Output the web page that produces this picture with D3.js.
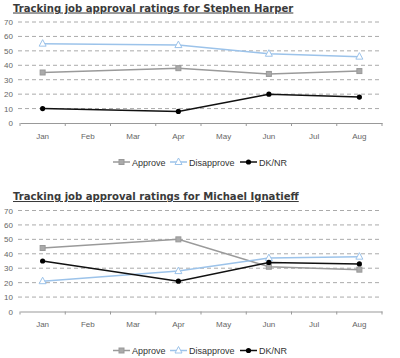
<!DOCTYPE html>
<html><head><meta charset="utf-8">
<script src="https://cdn.jsdelivr.net/npm/d3@7"></script>
<style>body{margin:0;background:#fff}svg{display:block}</style>
</head><body>
<svg id="c" width="400" height="358"></svg>
<script>
const months = ["Jan","Feb","Mar","Apr","May","Jun","Jul","Aug"];
const yTicks = [0,10,20,30,40,50,60,70];
const seriesNames = ["Approve","Disapprove","DK/NR"];
const harperMonths = ["Jan","Apr","Jun","Aug"];
const harperApprove = [35,38,34,36];
const harperDisapprove = [55,54,48,46];
const harperDK = [10,8,20,18];
const ignatieffMonths = ["Jan","Apr","Jun","Aug"];
const ignatieffApprove = [44,50,31,29];
const ignatieffDisapprove = [21,28,37,38];
const ignatieffDK = [35,21,34,33];
const titles = ["Tracking job approval ratings for Stephen Harper","Tracking job approval ratings for Michael Ignatieff"];

const styles = {
  "Approve": {color:"#9a9a9a", marker:"square"},
  "Disapprove": {color:"#9cc3ea", marker:"triangle"},
  "DK/NR": {color:"#111", marker:"circle"}
};

const svg = d3.select("#c");

function marker(g, type, x, y, color){
  if(type==="square"){
    g.append("rect").attr("x",x-2.5).attr("y",y-2.5).attr("width",5).attr("height",5)
      .attr("fill","#aaa").attr("stroke","#999").attr("stroke-width",1);
  } else if(type==="triangle"){
    g.append("path").attr("d",`M${x},${y-4}L${x+3.5},${y+2.5}L${x-3.5},${y+2.5}Z`)
      .attr("fill","#fff").attr("stroke",color).attr("stroke-width",1);
  } else {
    g.append("circle").attr("cx",x).attr("cy",y).attr("r",2.6).attr("fill","#000");
  }
}

function chart(top, title, mths, data){
  const g = svg.append("g");
  const x = d3.scaleBand().domain(months).range([20,382]);
  const y = d3.scaleLinear().domain([0,70]).range([top+101,top]);
  g.append("text").attr("x",13).attr("y",top-10.5).text(title)
    .attr("font-family","'DejaVu Sans', sans-serif").attr("font-weight","bold")
    .attr("font-size","10.1px").attr("fill","#3a3a3a").attr("text-decoration","underline");
  // grid
  g.selectAll(".grid").data(yTicks.filter(d=>d>0)).enter().append("line")
    .attr("x1",18).attr("x2",382).attr("y1",d=>y(d)).attr("y2",d=>y(d))
    .attr("stroke","#aaa").attr("stroke-dasharray","4,3").attr("stroke-width",1);
  g.selectAll(".yl").data(yTicks).enter().append("text")
    .attr("x",13).attr("y",d=>y(d)+3).attr("text-anchor","end").text(d=>d)
    .attr("font-family","'Liberation Sans', Arial, sans-serif").attr("font-size","8px").attr("fill","#666");
  // x axis
  const xa = d3.axisBottom(x).tickSize(0).tickPadding(10);
  const ax = g.append("g").attr("transform",`translate(0,${y(0)})`).call(xa);
  ax.select(".domain").attr("stroke","#999");
  ax.selectAll("text").attr("font-family","'Liberation Sans', Arial, sans-serif").attr("font-size","8px").attr("fill","#666");
  const bounds = months.map(m=>x(m)).concat([x.range()[1]]);
  g.selectAll(".xt").data(bounds).enter().append("line")
    .attr("x1",d=>d).attr("x2",d=>d).attr("y1",y(0)).attr("y2",y(0)+3).attr("stroke","#999");
  // series
  const line = d3.line().x((d,i)=>x(mths[i])+x.bandwidth()/2).y(d=>y(d));
  seriesNames.forEach((s,si)=>{
    const vals = data[si];
    g.append("path").attr("d",line(vals)).attr("fill","none")
      .attr("stroke",styles[s].color).attr("stroke-width",1.5);
    vals.forEach((v,i)=>marker(g,styles[s].marker,x(mths[i])+x.bandwidth()/2,y(v),styles[s].color));
  });
  // legend
  const ly = top+140;
  const lx = [113,170,240];
  seriesNames.forEach((s,i)=>{
    g.append("line").attr("x1",lx[i]).attr("x2",lx[i]+17).attr("y1",ly).attr("y2",ly)
      .attr("stroke",styles[s].color).attr("stroke-width",1.5);
    marker(g,styles[s].marker,lx[i]+8.5,ly,styles[s].color);
    g.append("text").attr("x",lx[i]+19).attr("y",ly+3.5).text(s)
      .attr("font-family","'Liberation Sans', Arial, sans-serif").attr("font-size","9px").attr("fill","#333");
  });
}

chart(22, titles[0], harperMonths, [harperApprove,harperDisapprove,harperDK]);
chart(210.5, titles[1], ignatieffMonths, [ignatieffApprove,ignatieffDisapprove,ignatieffDK]);
</script>
</body></html>
